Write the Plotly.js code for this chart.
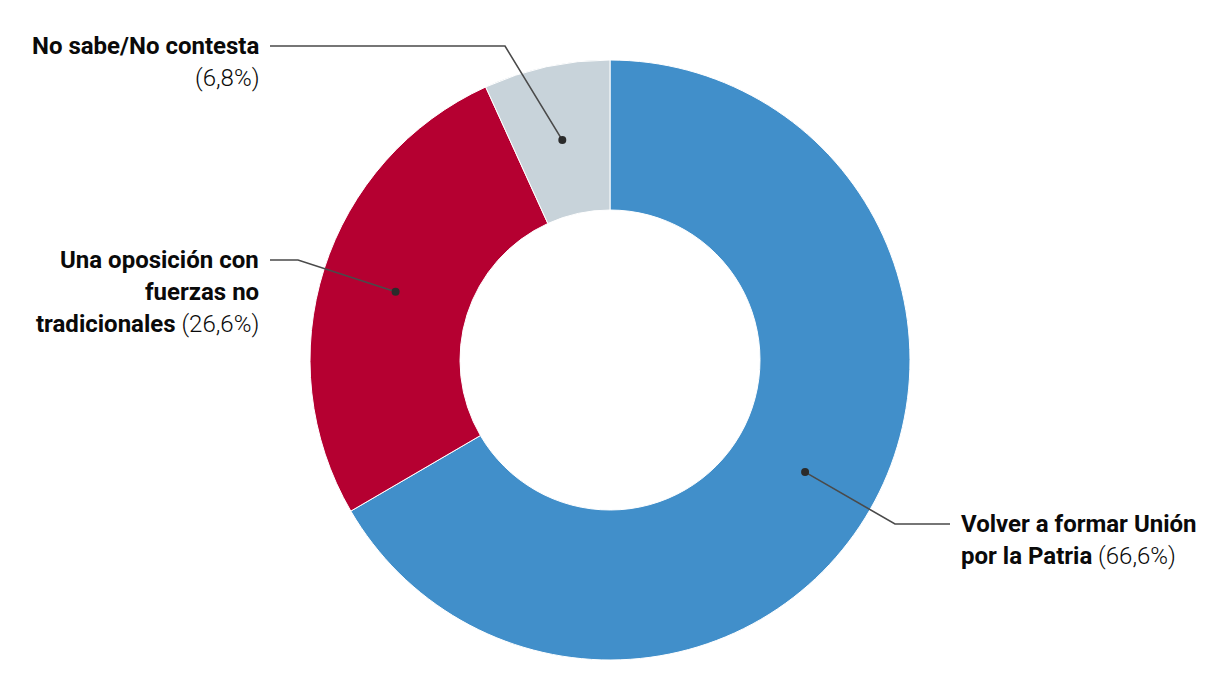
<!DOCTYPE html>
<html>
<head>
<meta charset="utf-8">
<script src="https://cdn.plot.ly/plotly-3.0.1.min.js"></script>
<style>html,body{margin:0;padding:0;background:#fff;}#chart{width:1220px;height:700px;}</style>
</head>
<body>
<div id="chart"></div>
<script>
// ---- data ----
const categories = ["Volver a formar Unión por la Patria", "Una oposición con fuerzas no tradicionales", "No sabe/No contesta"];
const values = [66.6, 26.6, 6.8];
const colors = ["#418fca", "#b50031", "#c8d3da"];
const labelLines = [
  ["<b>Volver a formar Unión</b>", "<b>por la Patria</b> (66,6%)"],
  ["<b>Una oposición con</b>", "<b>fuerzas no</b>", "<b>tradicionales</b> (26,6%)"],
  ["<b>No sabe/No contesta</b>", "(6,8%)"]
];

// ---- layout constants (pixels) ----
const W = 1220, H = 700;
const cx = 610, cy = 360, R = 300, holeFrac = 0.5;
const labelCfg = [
  {side: "left",  tx: 959, ty: 524, elbow: [895, 524], end: 950},
  {side: "right", tx: 261, ty: 260, elbow: [298, 260], end: 270},
  {side: "right", tx: 261, ty: 46,  elbow: [505, 46],  end: 270}
];
const lineGap = 32;

const total = values.reduce((a, b) => a + b, 0);
let cum = 0;
const shapes = [];
const annotations = [];
values.forEach((v, i) => {
  const mid = (cum + v / 2) / total * 2 * Math.PI;
  cum += v;
  const rr = R * (1 + holeFrac) / 2;
  const dx = cx + rr * Math.sin(mid);
  const dy = cy - rr * Math.cos(mid);
  const c = labelCfg[i];
  shapes.push({type: "path", xref: "x", yref: "y",
    path: `M${dx},${dy} L${c.elbow[0]},${c.elbow[1]} L${c.end},${c.elbow[1]}`,
    line: {color: "#4a4a4a", width: 1.6}});
  shapes.push({type: "circle", xref: "x", yref: "y",
    x0: dx - 4, x1: dx + 4, y0: dy - 4, y1: dy + 4,
    fillcolor: "#2b2b2b", line: {width: 0}});
  labelLines[i].forEach((t, j) => {
    annotations.push({xref: "x", yref: "y", x: c.tx, y: c.ty + j * lineGap,
      text: t, showarrow: false, xanchor: c.side, yanchor: "middle",
      align: c.side, font: {family: "Roboto, 'Noto Sans', sans-serif", size: 24, color: "#0a0a0a", weight: 300}});
  });
});

const trace = {
  type: "pie",
  labels: categories,
  values: values,
  hole: holeFrac,
  sort: false,
  direction: "clockwise",
  rotation: 0,
  textinfo: "none",
  hoverinfo: "label+percent",
  marker: {colors: colors, line: {color: "#ffffff", width: 1}},
  domain: {x: [(cx - R) / W, (cx + R) / W], y: [(H - cy - R) / H, (H - cy + R) / H]},
  showlegend: false
};

const layout = {
  width: W, height: H,
  margin: {l: 0, r: 0, t: 0, b: 0},
  paper_bgcolor: "#fff", plot_bgcolor: "rgba(0,0,0,0)",
  xaxis: {range: [0, W], visible: false, fixedrange: true},
  yaxis: {range: [H, 0], visible: false, fixedrange: true},
  shapes: shapes,
  annotations: annotations,
  showlegend: false
};

Plotly.newPlot("chart", [trace], layout, {displayModeBar: false, staticPlot: true});
</script>
</body>
</html>
